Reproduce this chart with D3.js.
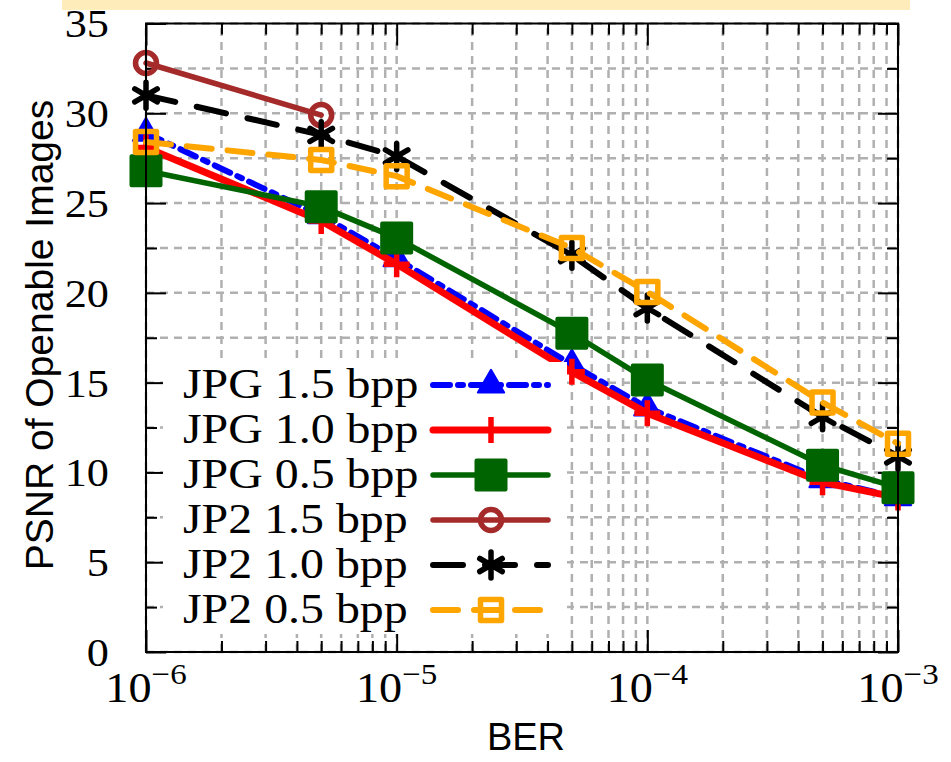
<!DOCTYPE html>
<html>
<head>
<meta charset="utf-8">
<script src="https://cdn.jsdelivr.net/npm/d3@7"></script>
<style>
  html, body { margin: 0; padding: 0; background: #fff; }
  svg { display: block; }
</style>
</head>
<body>
<svg id="chart" width="951" height="762"></svg>
<script>
// ---------------- data ----------------
const ber = [1e-6, 5e-6, 1e-5, 5e-5, 1e-4, 5e-4, 1e-3];
const jpg15 = [28.9, 24.3, 21.9, 16.0, 13.6, 9.6, 8.6];
const jpg10 = [28.1, 24.0, 21.6, 15.6, 13.3, 9.45, 8.6];
const jpg05 = [26.8, 24.8, 23.05, 17.75, 15.15, 10.4, 9.15];
const jp2_15 = [32.8, 29.9];
const jp2_10 = [31.0, 28.8, 27.6, 22.1, 19.15, 13.1, 10.9];
const jp2_05 = [28.4, 27.4, 26.5, 22.5, 20.05, 13.9, 11.6];
const seriesNames = ["JPG 1.5 bpp", "JPG 1.0 bpp", "JPG 0.5 bpp", "JP2 1.5 bpp", "JP2 1.0 bpp", "JP2 0.5 bpp"];
const xMajorTicks = [1e-6, 1e-5, 1e-4, 1e-3];
const xTickExponents = ["\u22126", "\u22125", "\u22124", "\u22123"];
const yTicks = [0, 5, 10, 15, 20, 25, 30, 35];
const xLabel = "BER";
const yLabel = "PSNR of Openable Images";

// ---------------- styles ----------------
const styles = [
  { color: "#0000ff", dash: "17,8,5,8", width: 6, marker: "triangle" },
  { color: "#ff0000", dash: null, width: 7, marker: "plus" },
  { color: "#006400", dash: null, width: 5.5, marker: "square" },
  { color: "#a52a2a", dash: null, width: 5.5, marker: "circle" },
  { color: "#000000", dash: "30,22", width: 6, marker: "asterisk" },
  { color: "#ffa500", dash: "25,16", width: 6, marker: "osquare" }
];
const seriesValues = [jpg15, jpg10, jpg05, jp2_15, jp2_10, jp2_05];

const svg = d3.select("#chart");
const L = 146, R = 898, T = 23.5, B = 652;
const x = d3.scaleLog().domain([1e-6, 1e-3]).range([L, R]);
const y = d3.scaleLinear().domain([0, 35]).range([B, T]);

// yellow band at top
svg.append("rect").attr("x", 62).attr("y", 0).attr("width", 848).attr("height", 10).attr("fill", "#feedbb");

// grid
const gridG = svg.append("g").attr("stroke", "#b0b0b0").attr("stroke-width", 2.5).attr("stroke-dasharray", "8,6").attr("fill", "none");
const xAll = x.ticks();
gridG.selectAll("line.vx").data(xAll).join("line")
  .attr("x1", d => x(d)).attr("x2", d => x(d)).attr("y1", B).attr("y2", T);
const yGrid = d3.range(0, 35.01, 2.5);
gridG.selectAll("line.hy").data(yGrid).join("line")
  .attr("x1", L).attr("x2", R).attr("y1", d => y(d)).attr("y2", d => y(d));

// axes (inward ticks)
const xMinor = xAll.filter(d => !xMajorTicks.some(m => Math.abs(m - d) / m < 1e-6));
const yMinor = yGrid.filter(d => d % 5 !== 0);
function styleAxis(g) {
  g.select(".domain").remove();
  g.selectAll(".tick line").attr("stroke", "#000").attr("stroke-width", 2);
}
svg.append("g").attr("transform", `translate(0,${B})`)
  .call(d3.axisBottom(x).tickValues(xMajorTicks).tickSize(-22).tickFormat(""))
  .call(styleAxis);
svg.append("g").attr("transform", `translate(0,${B})`)
  .call(d3.axisBottom(x).tickValues(xMinor).tickSize(-11).tickFormat(""))
  .call(styleAxis);
svg.append("g").attr("transform", `translate(0,${T})`)
  .call(d3.axisTop(x).tickValues(xMajorTicks).tickSize(-22).tickFormat(""))
  .call(styleAxis);
svg.append("g").attr("transform", `translate(0,${T})`)
  .call(d3.axisTop(x).tickValues(xMinor).tickSize(-11).tickFormat(""))
  .call(styleAxis);
svg.append("g").attr("transform", `translate(${L},0)`)
  .call(d3.axisLeft(y).tickValues(yTicks).tickSize(-20).tickFormat(""))
  .call(styleAxis);
svg.append("g").attr("transform", `translate(${L},0)`)
  .call(d3.axisLeft(y).tickValues(yMinor).tickSize(-11).tickFormat(""))
  .call(styleAxis);
svg.append("g").attr("transform", `translate(${R},0)`)
  .call(d3.axisRight(y).tickValues(yTicks).tickSize(-20).tickFormat(""))
  .call(styleAxis);
svg.append("g").attr("transform", `translate(${R},0)`)
  .call(d3.axisRight(y).tickValues(yMinor).tickSize(-11).tickFormat(""))
  .call(styleAxis);

// tick labels
const serif = "'Liberation Serif', 'Times New Roman', serif";
svg.append("g").selectAll("text").data(yTicks).join("text")
  .attr("transform", d => `translate(109,${y(d)}) scale(1.08,1)`).attr("dy", "0.34em")
  .attr("text-anchor", "end").attr("font-family", serif).attr("font-size", 41)
  .text(d => d);
const xl = svg.append("g").selectAll("text").data(xMajorTicks).join("text")
  .attr("transform", d => `translate(${x(d)},702) scale(1.1,1)`)
  .attr("text-anchor", "middle").attr("font-family", serif).attr("font-size", 42);
xl.append("tspan").text("10");
xl.append("tspan").attr("dy", -18).attr("font-size", 30).text((d, i) => xTickExponents[i]);

// axis labels
const sans = "'Liberation Sans', Arial, sans-serif";
svg.append("text").attr("x", 526).attr("y", 750).attr("text-anchor", "middle")
  .attr("font-family", sans).attr("font-size", 38).text(xLabel);
svg.append("text").attr("transform", `translate(53,335) rotate(-90)`).attr("text-anchor", "middle")
  .attr("font-family", sans).attr("font-size", 39).text(yLabel);

// markers
function drawMarker(g, type, color) {
  if (type === "triangle") {
    g.append("path").attr("d", d3.symbol(d3.symbolTriangle, 300)()).attr("fill", color)
      .attr("stroke", color).attr("stroke-width", 2).attr("stroke-linejoin", "round");
  } else if (type === "plus") {
    g.append("path").attr("d", "M-13,0H13M0,-13V13").attr("stroke", color).attr("stroke-width", 5.5).attr("fill", "none");
  } else if (type === "square") {
    g.append("path").attr("d", d3.symbol(d3.symbolSquare, 29 * 29)()).attr("fill", color)
      .attr("stroke", color).attr("stroke-width", 4).attr("stroke-linejoin", "round");
  } else if (type === "circle") {
    g.append("circle").attr("r", 10.5).attr("fill", "none").attr("stroke", color).attr("stroke-width", 5.5);
  } else if (type === "asterisk") {
    const r = 13, a = Math.PI / 6;
    const p = `M0,${-r}V${r}M${-r * Math.cos(a)},${-r * Math.sin(a)}L${r * Math.cos(a)},${r * Math.sin(a)}M${-r * Math.cos(a)},${r * Math.sin(a)}L${r * Math.cos(a)},${-r * Math.sin(a)}`;
    g.append("path").attr("d", p).attr("stroke", color).attr("stroke-width", 5.5).attr("stroke-linecap", "round").attr("fill", "none");
  } else if (type === "osquare") {
    g.append("path").attr("d", d3.symbol(d3.symbolSquare, 21 * 21)()).attr("fill", "none")
      .attr("stroke", color).attr("stroke-width", 5.5).attr("stroke-linejoin", "round");
  }
}

// series
const line = d3.line().x(d => x(d[0])).y(d => y(d[1]));
seriesValues.forEach((vals, i) => {
  const st = styles[i];
  const pts = vals.map((v, j) => [ber[j], v]);
  svg.append("path").datum(pts).attr("d", line)
    .attr("fill", "none").attr("stroke", st.color).attr("stroke-width", st.width)
    .attr("stroke-dasharray", st.dash).attr("stroke-linejoin", "round").attr("stroke-linecap", "round");
  pts.forEach(p => {
    const g = svg.append("g").attr("transform", `translate(${x(p[0])},${y(p[1])})`);
    drawMarker(g, st.marker, st.color);
  });
});

// frame
svg.append("rect").attr("x", L).attr("y", T).attr("width", R - L).attr("height", B - T)
  .attr("fill", "none").attr("stroke", "#000").attr("stroke-width", 2);

// legend
const lg = svg.append("g");
lg.append("rect").attr("x", 163).attr("y", 362).attr("width", 404).attr("height", 272).attr("fill", "#fff");
seriesNames.forEach((name, i) => {
  const cy = 385 + i * 45;
  const st = styles[i];
  lg.append("text").attr("transform", `translate(183,${cy + 13}) scale(1.14,1)`)
    .attr("font-family", serif).attr("font-size", 42).text(name);
  lg.append("line").attr("x1", 433).attr("x2", 548).attr("y1", cy).attr("y2", cy)
    .attr("stroke", st.color).attr("stroke-width", st.width).attr("stroke-dasharray", st.dash)
    .attr("stroke-linecap", "round");
  const g = lg.append("g").attr("transform", `translate(491,${cy})`);
  drawMarker(g, st.marker, st.color);
});
</script>
</body>
</html>
